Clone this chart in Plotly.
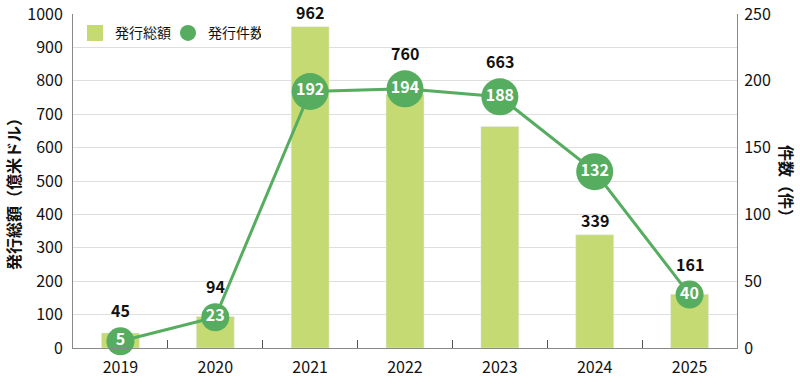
import plotly.graph_objects as go

years = ["2019", "2020", "2021", "2022", "2023", "2024", "2025"]
amounts = [45, 94, 962, 760, 663, 339, 161]      # 発行総額（億米ドル）
counts = [5, 23, 192, 194, 188, 132, 40]         # 発行件数（件）

BAR_COLOR = "#c5da72"
LINE_COLOR = "#56ad5f"
FONT = "Noto Sans CJK JP"

W, H = 800, 384
M = dict(l=73, r=63, t=14, b=36, autoexpand=False)
plot_w = W - M["l"] - M["r"]
plot_h = H - M["t"] - M["b"]
Y1_MAX, Y2_MAX = 1000, 250
px_per_unit = plot_h / Y1_MAX
ratio = Y1_MAX / Y2_MAX

xi = list(range(len(years)))
boundaries = [i + 0.5 for i in xi[:-1]]
marker_sizes = [37 if len(str(c)) >= 3 else 28 for c in counts]

fig = go.Figure()

fig.add_trace(go.Bar(
    x=xi, y=amounts, marker_color=BAR_COLOR, width=0.4,
    showlegend=False, hoverinfo="skip",
))

fig.add_trace(go.Scatter(
    x=xi, y=counts, yaxis="y2", mode="lines+markers+text",
    line=dict(color=LINE_COLOR, width=3),
    marker=dict(color=LINE_COLOR, size=marker_sizes, opacity=1, line=dict(width=0)),
    text=["<b>%d</b>" % c for c in counts], textposition="middle center",
    textfont=dict(family=FONT, size=16, color="white"),
    showlegend=False, cliponaxis=False, hoverinfo="skip",
))

# legend-only traces
fig.add_trace(go.Scatter(
    x=[None], y=[None], mode="markers", name="発行総額",
    marker=dict(symbol="square", color=BAR_COLOR, size=19),
))
fig.add_trace(go.Scatter(
    x=[None], y=[None], mode="markers", name="発行件数",
    marker=dict(symbol="circle", color=LINE_COLOR, size=19),
))

# bar value labels: above the bar, or above the marker when it sits on the bar top
annotations = []
for i, a, c, s in zip(xi, amounts, counts, marker_sizes):
    bar_px = a * px_per_unit
    m_px = c * ratio * px_per_unit
    m_top = m_px + s / 2
    m_bot = m_px - s / 2
    shift = 15
    if m_top > bar_px and m_bot < bar_px + 27:
        shift = (m_top - bar_px) + 17
    annotations.append(dict(
        x=i, y=a, xref="x", yref="y", text="<b>%d</b>" % a, showarrow=False,
        yshift=shift,
        font=dict(family=FONT, size=16, color="#111"),
    ))

annotations.append(dict(
    x=(13 - M["l"]) / plot_w, y=0.473, xref="paper", yref="paper",
    text="<b>発行総額（億米ドル）</b>",
    textangle=-90, showarrow=False, xanchor="center", yanchor="middle",
    font=dict(family=FONT, size=16, color="#111"),
))
annotations.append(dict(
    x=(787 - M["l"]) / plot_w, y=0.488, xref="paper", yref="paper",
    text="<b>件数（件）</b>",
    textangle=90, showarrow=False, xanchor="center", yanchor="middle",
    font=dict(family=FONT, size=16, color="#111"),
))

fig.update_layout(
    width=W, height=H, margin=M,
    paper_bgcolor="white", plot_bgcolor="white",
    font=dict(family=FONT, size=16, color="#111"),
    hovermode=False,
    xaxis=dict(
        range=[-0.5, len(years) - 0.5], tickmode="array",
        tickvals=xi, ticktext=years, ticks="",
        showline=True, linecolor="#888", linewidth=1,
        showgrid=False, zeroline=False, tickfont=dict(size=16),
        ticklabelstandoff=5, automargin=False,
        minor=dict(tickmode="array", tickvals=boundaries, ticks="inside",
                   ticklen=8, tickcolor="#555", showgrid=False),
    ),
    yaxis=dict(
        range=[0, Y1_MAX], dtick=100, showline=True, linecolor="#888",
        gridcolor="#dedede", gridwidth=1, zeroline=False,
        tickfont=dict(size=16), ticks="", automargin=False,
        ticklabelstandoff=6,
    ),
    yaxis2=dict(
        range=[0, Y2_MAX], dtick=50, overlaying="y", side="right",
        showline=True, linecolor="#888", showgrid=False, zeroline=False,
        tickfont=dict(size=16), ticks="", automargin=False,
        ticklabelstandoff=3,
    ),
    legend=dict(
        orientation="h", x=0.003, y=0.99, xanchor="left", yanchor="top",
        bgcolor="rgba(0,0,0,0)", font=dict(size=14), entrywidth=48,
    ),
    annotations=annotations,
)

fig.write_html("out.html", config={"displayModeBar": False},
               post_script="document.body.style.margin='0px';")
